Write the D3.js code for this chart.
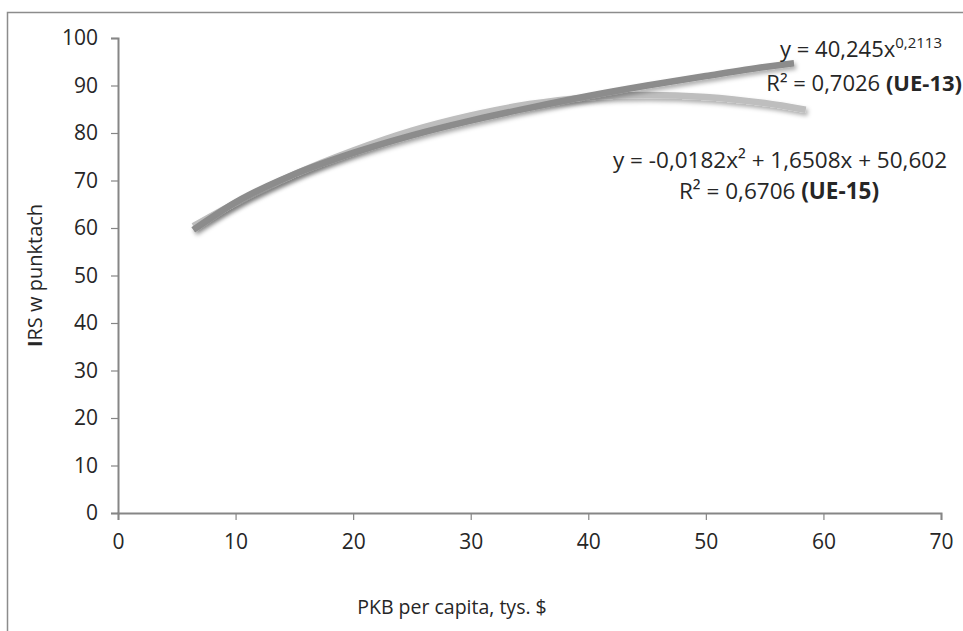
<!DOCTYPE html>
<html>
<head>
<meta charset="utf-8">
<script src="https://cdn.jsdelivr.net/npm/d3@7"></script>
<style>
  body { margin: 0; background: #fff; }
  svg { display: block; }
  text { font-family: "Open Sans", "Noto Sans", sans-serif; fill: #262626; }
</style>
</head>
<body>
<div id="chart"></div>
<script>
// values
var xTicks = [0, 10, 20, 30, 40, 50, 60, 70];
var yTicks = [0, 10, 20, 30, 40, 50, 60, 70, 80, 90, 100];

// UE-13 (power trend)
var ue13X = [6.4, 10, 15, 20, 25, 30, 35, 40, 45, 50, 55, 57.5];
var ue13Y = [59.6, 65.4, 71.3, 75.8, 79.5, 82.6, 85.3, 87.8, 90.0, 92.0, 93.9, 94.7];

// UE-15 (polynomial trend)
var ue15X = [6.4, 10, 15, 20, 25, 30, 35, 40, 45, 50, 55, 58.5];
var ue15Y = [60.4, 65.3, 71.3, 76.3, 80.5, 83.7, 86.1, 87.5, 88.0, 87.6, 86.3, 84.9];

var W = 963, H = 631;
var margin = {top: 38, right: 22, bottom: 118, left: 118};
var width = W - margin.left - margin.right;
var height = H - margin.top - margin.bottom;

var svg = d3.select("#chart").append("svg")
    .attr("width", W)
    .attr("height", H);

// outer frame (left and top only visible)
svg.append("path")
    .attr("d", "M7.5," + H + "V12.5H" + W)
    .attr("fill", "none")
    .attr("stroke", "#8c8c8c")
    .attr("stroke-width", 1.5);

var defs = svg.append("defs");
var f = defs.append("filter").attr("id", "shadow")
    .attr("x", "-10%").attr("y", "-50%").attr("width", "120%").attr("height", "200%");
f.append("feDropShadow")
    .attr("dx", 2).attr("dy", 3).attr("stdDeviation", 2.2)
    .attr("flood-color", "#000").attr("flood-opacity", 0.32);

var g = svg.append("g")
    .attr("transform", "translate(" + margin.left + "," + margin.top + ")");

var x = d3.scaleLinear().domain([0, 70]).range([0, width]);
var y = d3.scaleLinear().domain([0, 100]).range([height, 0]);

// axes
var xAxis = g.append("g")
    .attr("transform", "translate(0," + height + ")")
    .call(d3.axisBottom(x).tickValues(xTicks).tickSize(7).tickPadding(14));
var yAxis = g.append("g")
    .call(d3.axisLeft(y).tickValues(yTicks).tickSize(7).tickPadding(13));

[xAxis, yAxis].forEach(function(a) {
    a.select(".domain").attr("stroke", "#868686").attr("stroke-width", 2);
    a.selectAll(".tick line").attr("stroke", "#868686").attr("stroke-width", 1.2);
    a.selectAll(".tick text")
        .style("font-family", "'Open Sans', sans-serif")
        .style("font-size", "21px")
        .attr("fill", "#262626");
});

// trend lines
var line = d3.line()
    .x(function(d) { return x(d[0]); })
    .y(function(d) { return y(d[1]); })
    .curve(d3.curveMonotoneX);

var ue15 = ue15X.map(function(v, i) { return [v, ue15Y[i]]; });
var ue13 = ue13X.map(function(v, i) { return [v, ue13Y[i]]; });

g.append("path")
    .datum(ue15)
    .attr("d", line)
    .attr("fill", "none")
    .attr("stroke", "#bebebe")
    .attr("stroke-width", 6.5)
    .attr("filter", "url(#shadow)");

g.append("path")
    .datum(ue13)
    .attr("d", line)
    .attr("fill", "none")
    .attr("stroke", "#8c8c8c")
    .attr("stroke-width", 6.5)
    .attr("filter", "url(#shadow)");

// equation labels
var t1 = svg.append("text")
    .attr("x", 942).attr("y", 57)
    .attr("text-anchor", "end")
    .style("font-size", "22px");
t1.append("tspan").text("y = 40,245x");
t1.append("tspan").attr("dy", -9).style("font-size", "15px").text("0,2113");

var t2 = svg.append("text")
    .attr("x", 962).attr("y", 91)
    .attr("text-anchor", "end")
    .style("font-size", "22px");
t2.append("tspan").text("R² = 0,7026 ");
t2.append("tspan").style("font-weight", "bold").text("(UE-13)");

svg.append("text")
    .attr("x", 780).attr("y", 168)
    .attr("text-anchor", "middle")
    .style("font-size", "22.5px")
    .text("y = -0,0182x² + 1,6508x + 50,602");

var t4 = svg.append("text")
    .attr("x", 779).attr("y", 199)
    .attr("text-anchor", "middle")
    .style("font-size", "22.5px");
t4.append("tspan").text("R² = 0,6706 ");
t4.append("tspan").style("font-weight", "bold").text("(UE-15)");

// axis titles
var yt = svg.append("text")
    .attr("transform", "translate(42," + (margin.top + height / 2) + ") rotate(-90)")
    .attr("text-anchor", "middle")
    .style("font-size", "20px");
yt.append("tspan").style("font-weight", "bold").text("I");
yt.append("tspan").text("RS w punktach");

svg.append("text")
    .attr("x", 452).attr("y", 614)
    .attr("text-anchor", "middle")
    .style("font-size", "19.5px")
    .text("PKB per capita, tys. $");
</script>
</body>
</html>
